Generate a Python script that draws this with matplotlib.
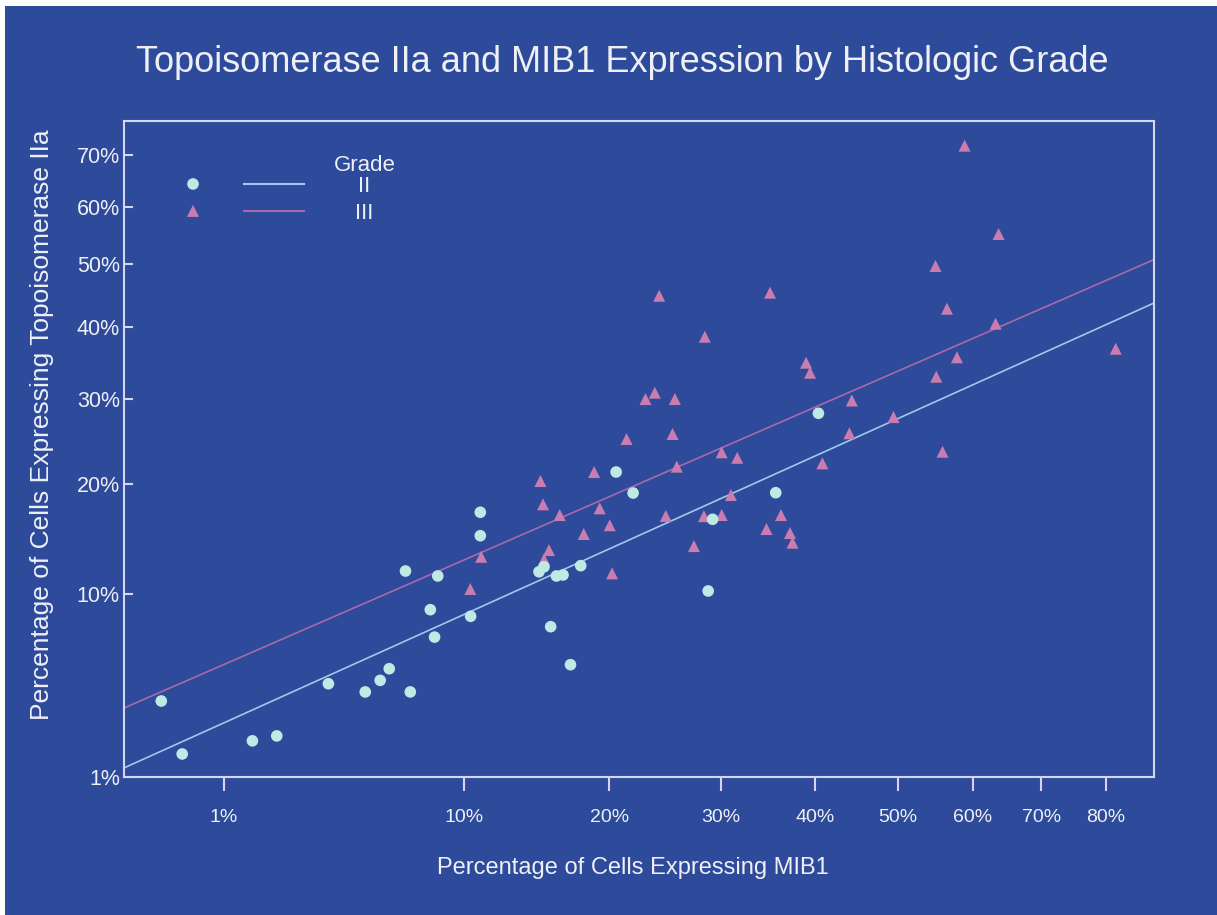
"""Topoisomerase IIa vs MIB1 por grado histológico"""
import matplotlib
matplotlib.use("Agg")
import matplotlib.pyplot as plt
from matplotlib.patches import Rectangle
import numpy as np

# Datos (porcentajes)
GRADO2_MIB1 = [0.19, 0.39, 1.58, 2.18, 3.77, 5.17, 5.80, 6.20, 7.18, 6.95,
               8.18, 8.40, 8.57, 10.39, 10.96, 10.96, 14.74, 15.09, 15.97,
               16.45, 17.77, 15.56, 17.0, 20.56, 21.97, 28.77, 29.2, 35.67,
               40.41]
GRADO2_TOPO = [3.61, 1.62, 2.04, 2.21, 4.43, 4.03, 4.60, 5.21, 4.03, 11.83,
               8.89, 7.06, 11.43, 8.43, 14.88, 17.10, 11.77, 12.18, 11.43,
               11.51, 12.27, 7.73, 5.43, 21.27, 19.04, 10.26, 16.42, 19.07,
               28.17]

GRADO3_MIB1 = [10.37, 11.01, 14.84, 15.02, 15.44, 15.09, 16.21, 18.0, 18.80,
               19.24, 20.04, 20.23, 21.42, 23.03, 23.84, 24.23, 24.82, 25.43,
               25.64, 25.82, 27.41, 28.45, 28.36, 30.09, 30.09, 31.01, 31.65,
               34.68, 35.06, 36.24, 37.22, 37.50, 39.01, 39.46, 40.87, 44.33,
               44.04, 49.47, 55.04, 54.94, 55.88, 56.48, 57.84, 58.89, 63.26,
               63.69, 81.65]
GRADO3_TOPO = [10.41, 13.02, 20.30, 17.89, 13.60, 12.80, 16.83, 15.04, 21.27,
               17.49, 15.85, 11.64, 25.03, 29.99, 30.82, 44.89, 16.74, 25.63,
               29.99, 21.86, 13.95, 38.62, 16.72, 23.48, 16.83, 18.83, 22.85,
               15.50, 45.37, 16.83, 15.13, 14.25, 34.89, 33.50, 22.23, 29.80,
               25.71, 27.70, 32.96, 49.73, 23.55, 42.85, 35.65, 71.86, 40.56,
               55.22, 36.87]

# Rectas de ajuste en escala raíz cuadrada: sqrt(y) = a + b * sqrt(x)
AJUSTE_GRADO2 = (0.1048, 0.5933)
AJUSTE_GRADO3 = (0.1760, 0.5722)

TICKS_X = [1, 10, 20, 30, 40, 50, 60, 70, 80]
TICKS_Y = [1, 10, 20, 30, 40, 50, 60, 70]

# Estilo
FONDO = "#2E4A9B"
TEXTO = "#EEF0F6"
EJES = "#D3D6F0"
COLOR_G2 = "#BDEBE3"
COLOR_G3 = "#C97CAF"
LINEA_G2 = "#9DCAEC"
LINEA_G3 = "#A86AAA"
FUENTE = ["Liberation Sans", "DejaVu Sans"]


def _raiz(v):
    return np.sqrt(np.clip(v, 0, None))


def _cuadrado(v):
    return np.asarray(v) ** 2


def _recta(eje, ajuste, color):
    # Dibuja la recta de ajuste sobre todo el rango del eje x
    a, b = ajuste
    x = np.linspace(0.01, 88, 400)
    y = 100 * (a + b * np.sqrt(x / 100)) ** 2
    eje.plot(x, y, color=color, lw=1.2, zorder=2)


def _leyenda(eje):
    # Leyenda con marcador y línea en columnas separadas
    t = eje.transAxes
    eje.text(0.2335, 0.932, "Grade", transform=t, color=TEXTO, fontsize=16,
             ha="center", va="center", family=FUENTE)
    filas = [(0.904, COLOR_G2, LINEA_G2, "o", 70, "II"),
             (0.863, COLOR_G3, LINEA_G3, "^", 75, "III")]
    for y, cm, cl, marca, tam, texto in filas:
        eje.scatter([0.067], [y], transform=t, s=tam, marker=marca, color=cm,
                    edgecolors="none", clip_on=False)
        eje.plot([0.1165, 0.1748], [y, y], transform=t, color=cl, lw=1.5)
        eje.text(0.2335, y - 0.004, texto, transform=t, color=TEXTO,
                 fontsize=16, ha="center", va="center", family=FUENTE)


figura = plt.figure(figsize=(12.17, 9.15), dpi=100, facecolor="white")
figura.patches.append(Rectangle((5 / 1217, 0), 1, 1 - 6 / 915,
                                transform=figura.transFigure,
                                facecolor=FONDO, edgecolor="none", zorder=-10))

eje = figura.add_axes([124 / 1217, 1 - 777 / 915, 1030 / 1217, 656 / 915])
eje.set_facecolor(FONDO)
eje.set_xscale("function", functions=(_raiz, _cuadrado))
eje.set_yscale("function", functions=(_raiz, _cuadrado))

_recta(eje, AJUSTE_GRADO2, LINEA_G2)
_recta(eje, AJUSTE_GRADO3, LINEA_G3)
eje.scatter(GRADO3_MIB1, GRADO3_TOPO, s=75, marker="^", color=COLOR_G3,
            edgecolors="none", zorder=3)
eje.scatter(GRADO2_MIB1, GRADO2_TOPO, s=70, marker="o", color=COLOR_G2,
            edgecolors="none", zorder=4)

eje.set_xlim(0.01, 88)
eje.set_ylim(1, 76.9)
eje.set_xticks(TICKS_X)
eje.set_xticklabels([f"{v}%" for v in TICKS_X])
eje.set_yticks(TICKS_Y)
eje.set_yticklabels([f"{v}%" for v in TICKS_Y])
eje.minorticks_off()

for lado in eje.spines.values():
    lado.set_color(EJES)
    lado.set_linewidth(1.5)
eje.tick_params(axis="x", direction="out", length=10, width=1.5,
                color=EJES, labelcolor=TEXTO, labelsize=14, pad=13)
eje.tick_params(axis="y", direction="in", length=6.5, width=1.5,
                color=EJES, labelcolor=TEXTO, labelsize=15.5, pad=3)
for etiqueta in eje.get_xticklabels() + eje.get_yticklabels():
    etiqueta.set_family(FUENTE)

eje.set_xlabel("Percentage of Cells Expressing MIB1", color=TEXTO,
               fontsize=17, family=FUENTE)
eje.xaxis.set_label_coords(0.494, -0.122)
eje.set_ylabel("Percentage of Cells Expressing Topoisomerase IIa",
               color=TEXTO, fontsize=19, family=FUENTE)
eje.yaxis.set_label_coords(-0.068, 0.537)

_leyenda(eje)

figura.text(622 / 1217, 1 - 62 / 915,
            "Topoisomerase IIa and MIB1 Expression by Histologic Grade",
            color=TEXTO, fontsize=26, ha="center", va="center", family=FUENTE)

figura.savefig("out.png", dpi=100, facecolor=figura.get_facecolor())
plt.close(figura)
